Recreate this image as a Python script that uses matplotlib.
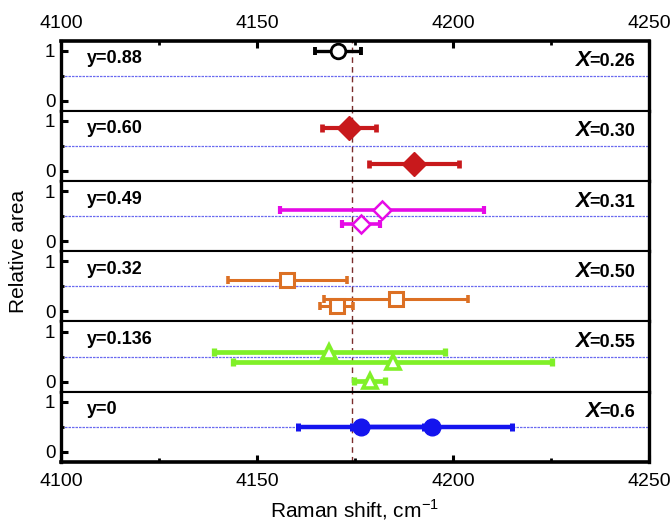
import matplotlib
matplotlib.use("Agg")
import matplotlib.pyplot as plt
from matplotlib.offsetbox import TextArea, HPacker, AnnotationBbox
from matplotlib.ticker import FixedLocator

plt.rcParams['font.family'] = ['Liberation Sans', 'DejaVu Sans']

# Composition labels for each panel (top to bottom)
x_values = ["0.26", "0.30", "0.31", "0.50", "0.55", "0.6"]
y_values = ["y=0.88", "y=0.60", "y=0.49", "y=0.32", "y=0.136", "y=0"]

# Peak positions (cm^-1), relative areas and half-widths of the error bars
shift_026 = [4170.6]
area_026 = [1.0]
err_026 = [5.8]

shift_030 = [4173.5, 4190.1]
area_030 = [0.85, 0.14]
err_030 = [6.9, 11.5]

shift_031 = [4181.8, 4176.6]
area_031 = [0.62, 0.35]
err_031 = [26.0, 4.8]

shift_050 = [4157.7, 4185.5, 4170.3]
area_050 = [0.63, 0.25, 0.11]
err_050 = [15.2, 18.3, 4.2]

shift_055 = [4168.4, 4184.6, 4178.7]
area_055 = [0.59, 0.39, 0.02]
err_055 = [29.5, 40.7, 3.9]

shift_060 = [4176.5, 4194.6]
area_060 = [0.5, 0.5]
err_060 = [16.0, 20.4]

reference_shift = 4174.3

x_ticks_major = [4100, 4150, 4200, 4250]
x_ticks_minor = [4125, 4175, 4225]

panels = [
    (shift_026, area_026, err_026, dict(color="black", marker="o", ms=10.5, mfc="white", mew=2.0, elw=2.4)),
    (shift_030, area_030, err_030, dict(color="#c8191c", marker="D", ms=12.5, mfc="#c8191c", mew=1.0, elw=3.0)),
    (shift_031, area_031, err_031, dict(color="#e60ae6", marker="D", ms=9.5, mfc="white", mew=1.8, elw=2.6)),
    (shift_050, area_050, err_050, dict(color="#dc7024", marker="s", ms=9.5, mfc="white", mew=2.2, elw=2.2)),
    (shift_055, area_055, err_055, dict(color="#80f028", marker="^", ms=10.5, mfc="white", mew=2.6, elw=3.4)),
    (shift_060, area_060, err_060, dict(color="#1414ee", marker="o", ms=12, mfc="#1414ee", mew=1.0, elw=3.2)),
]

fig = plt.figure(figsize=(6.72, 5.31), dpi=100)
gs = fig.add_gridspec(6, 1, left=0.0908, right=0.9658, top=0.9237, bottom=0.13, hspace=0)

axes = []
for i, (shift, area, err, st) in enumerate(panels):
    ax = fig.add_subplot(gs[i, 0])
    axes.append(ax)
    ax.set_xlim(4100, 4250)
    ax.set_ylim(-0.2, 1.2)

    ax.axhline(0.5, color="#6a6af0", lw=0.9, ls=(0, (2.0, 0.8)), zorder=1)
    ax.axvline(reference_shift, color="#7a2c2c", lw=1.0, ls=(0, (4, 3)), zorder=1.5)

    ax.errorbar(shift, area, xerr=err, fmt="none", ecolor=st["color"],
                elinewidth=st["elw"], capsize=3.2, capthick=st["elw"] + 0.4, zorder=2)
    ax.plot(shift, area, ls="none", marker=st["marker"], ms=st["ms"],
            mfc=st["mfc"], mec=st["color"], mew=st["mew"], zorder=3)

    ax.text(4106.6, 0.84, y_values[i], fontsize=13, fontweight="bold",
            ha="left", va="center")

    label = HPacker(children=[
        TextArea("X", textprops=dict(fontsize=16, fontweight="bold", fontstyle="italic")),
        TextArea("=" + x_values[i], textprops=dict(fontsize=13, fontweight="bold")),
    ], align="baseline", pad=0, sep=0)
    ab = AnnotationBbox(label, (4246.5, 0.80), xycoords="data", box_alignment=(1, 0.5),
                        frameon=False, pad=0)
    ax.add_artist(ab)

    # y axis: ticks at 0 and 1, short mark at 0.5
    ax.yaxis.set_major_locator(FixedLocator([0, 1]))
    ax.yaxis.set_minor_locator(FixedLocator([0.5]))
    ax.tick_params(axis="y", which="major", direction="in", length=5, width=2.2,
                   labelsize=13.5, pad=4, right=False)
    ax.tick_params(axis="y", which="minor", direction="in", length=2.5, width=2.0, right=False)

    ax.xaxis.set_major_locator(FixedLocator(x_ticks_major))
    ax.xaxis.set_minor_locator(FixedLocator(x_ticks_minor))
    ax.tick_params(axis="x", which="both", direction="in", top=False, bottom=False,
                   labeltop=False, labelbottom=False)

    for side in ("left", "right"):
        ax.spines[side].set_linewidth(2.4)
    ax.spines["top"].set_linewidth(1.5)
    ax.spines["bottom"].set_linewidth(1.5)

# outer frame: top axis on the first panel, bottom axis on the last
top_ax, bot_ax = axes[0], axes[-1]
top_ax.spines["top"].set_linewidth(2.6)
bot_ax.spines["bottom"].set_linewidth(2.6)
top_ax.tick_params(axis="x", which="major", top=True, labeltop=True, length=5, width=2.2,
                   labelsize=14, pad=6)
top_ax.tick_params(axis="x", which="minor", top=True, length=3, width=2.0)
bot_ax.tick_params(axis="x", which="major", bottom=True, labelbottom=True, length=5, width=2.2,
                   labelsize=14, pad=8)
bot_ax.tick_params(axis="x", which="minor", bottom=True, length=3, width=2.0)

fig.text(0.027, 0.527, "Relative area", rotation=90, ha="center", va="center", fontsize=15)
fig.text(0.528, 0.04, r"Raman shift, cm$^{\mathregular{-1}}$", ha="center", va="center", fontsize=15)

fig.savefig("out.png", dpi=100)
